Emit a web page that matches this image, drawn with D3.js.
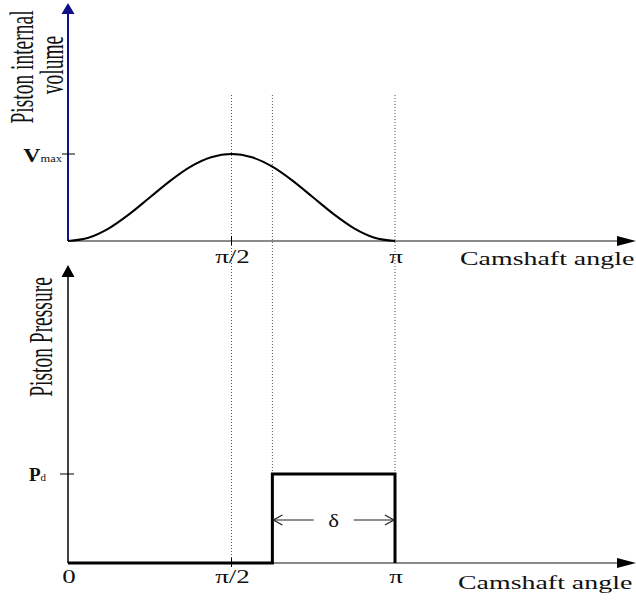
<!DOCTYPE html>
<html>
<head>
<meta charset="utf-8">
<script src="https://cdn.jsdelivr.net/npm/d3@7"></script>
<style>
  html, body { margin: 0; padding: 0; background: #fff; }
  svg { display: block; }
  text { font-family: "Liberation Serif", "Times New Roman", serif; fill: #111; }
</style>
</head>
<body>
<svg id="chart" width="636" height="602"></svg>
<script>
// Camshaft angle samples (radians) and normalised piston internal volume
const volumeAngles = d3.range(0, 17).map(k => k * Math.PI / 16);
const volumeValues = [0, 0.038, 0.146, 0.309, 0.5, 0.691, 0.854, 0.962, 1,
                      0.962, 0.854, 0.691, 0.5, 0.309, 0.146, 0.038, 0];

// Piston pressure: zero until the delivery valve opens, then P_d up to π
const openAngle = 5 * Math.PI / 8;
const pressureAngles = [0, openAngle, openAngle, Math.PI, Math.PI];
const pressureValues = [0, 0, 1, 1, 0];

// Angle tick labels
const tickAnglesTop = [Math.PI / 2, Math.PI];
const tickLabelsTop = ["π/2", "π"];
const tickAnglesBottom = [0, Math.PI / 2, Math.PI];
const tickLabelsBottom = ["0", "π/2", "π"];
// Vertical reference angles drawn as dotted guides
const guideAngles = [Math.PI / 2, openAngle, Math.PI];

const svg = d3.select("#chart");

const x = d3.scaleLinear().domain([0, Math.PI]).range([68, 395]);
const yTop = d3.scaleLinear().domain([0, 1]).range([241, 154]);
const yBot = d3.scaleLinear().domain([0, 1]).range([563, 474]);

const axisGrey = "#8a8a8a";
const navy = "#10108a";
const SX = 1.5; // horizontal stretch of the lettering

function label(px, py, str, opt = {}) {
  const size = opt.size || 18;
  const sx = opt.sx || SX;
  const rot = opt.rotate ? ` rotate(${opt.rotate})` : "";
  const g = svg.append("g").attr("transform", `translate(${px},${py}) scale(${sx},1)${rot}`);
  const t = g.append("text")
    .attr("text-anchor", opt.anchor || "middle")
    .attr("font-size", size);
  if (opt.sub) {
    t.append("tspan").attr("font-weight", opt.weight || "normal").text(str);
    t.append("tspan").attr("font-size", opt.subSize || 10).text(opt.sub);
  } else {
    t.text(str);
  }
  return t;
}

// Dotted guides across both panels
svg.append("g").selectAll("line").data(guideAngles).join("line")
  .attr("x1", d => x(d)).attr("x2", d => x(d))
  .attr("y1", 95).attr("y2", yBot(0))
  .attr("stroke", "#555").attr("stroke-width", 1)
  .attr("stroke-dasharray", "1,2");

// ---------- Top panel: piston internal volume ----------
// x axis
svg.append("line")
  .attr("x1", x(0)).attr("x2", 620).attr("y1", yTop(0)).attr("y2", yTop(0))
  .attr("stroke", axisGrey).attr("stroke-width", 2);
svg.append("path")
  .attr("d", `M636,${yTop(0)} L617,${yTop(0) - 5} L617,${yTop(0) + 5} Z`)
  .attr("fill", "#000");
// y axis
svg.append("line")
  .attr("x1", x(0)).attr("x2", x(0)).attr("y1", yTop(0)).attr("y2", 10)
  .attr("stroke", navy).attr("stroke-width", 2);
svg.append("path")
  .attr("d", `M${x(0)},3 L${x(0) - 6.5},14 L${x(0) + 6.5},14 Z`)
  .attr("fill", navy);

// V_max tick
svg.append("line")
  .attr("x1", 62).attr("x2", 75).attr("y1", yTop(1)).attr("y2", yTop(1))
  .attr("stroke", "#000").attr("stroke-width", 1);
label(62, yTop(1) + 8, "V", { anchor: "end", size: 19, sx: 1.25, weight: "bold", sub: "max", subSize: 10 });

// angle ticks
svg.append("line")
  .attr("x1", x(Math.PI / 2)).attr("x2", x(Math.PI / 2))
  .attr("y1", yTop(0) - 5).attr("y2", yTop(0) + 4)
  .attr("stroke", "#000").attr("stroke-width", 1);
tickAnglesTop.forEach((a, i) => label(x(a) + 1, 263, tickLabelsTop[i], { size: 18 }));

// volume curve
const volLine = d3.line()
  .x((d, i) => x(volumeAngles[i]))
  .y(d => yTop(d))
  .curve(d3.curveMonotoneX);
svg.append("path")
  .attr("d", volLine(volumeValues))
  .attr("fill", "none").attr("stroke", "#000").attr("stroke-width", 2);

label(460, 265, "Camshaft angle", { anchor: "start", size: 18, sx: 1.55 });
label(33, 67, "Piston internal", { rotate: -90, size: 19.5, sx: 1.7 });
label(63, 65, "volume", { rotate: -90, size: 19.5, sx: 1.7 });

// ---------- Bottom panel: piston pressure ----------
svg.append("line")
  .attr("x1", x(0)).attr("x2", 620).attr("y1", yBot(0)).attr("y2", yBot(0))
  .attr("stroke", axisGrey).attr("stroke-width", 2);
svg.append("path")
  .attr("d", `M636,${yBot(0)} L617,${yBot(0) - 5} L617,${yBot(0) + 5} Z`)
  .attr("fill", "#000");
svg.append("line")
  .attr("x1", x(0)).attr("x2", x(0)).attr("y1", yBot(0)).attr("y2", 272)
  .attr("stroke", "#000").attr("stroke-width", 1.5);
svg.append("path")
  .attr("d", `M${x(0)},265 L${x(0) - 6.5},277 L${x(0) + 6.5},277 Z`)
  .attr("fill", "#000");

// P_d tick
svg.append("line")
  .attr("x1", 60).attr("x2", 74).attr("y1", yBot(1)).attr("y2", yBot(1))
  .attr("stroke", "#000").attr("stroke-width", 1);
label(46, yBot(1) + 7, "P", { anchor: "end", size: 19, sx: 1.0, weight: "bold", sub: "d", subSize: 11 });

svg.append("line")
  .attr("x1", x(Math.PI / 2)).attr("x2", x(Math.PI / 2))
  .attr("y1", yBot(0) - 5).attr("y2", yBot(0) + 4)
  .attr("stroke", "#000").attr("stroke-width", 1);
tickAnglesBottom.forEach((a, i) => label(x(a) + 1, 583, tickLabelsBottom[i], { size: 18 }));

// pressure trace
const presLine = d3.line()
  .x((d, i) => x(pressureAngles[i]))
  .y(d => yBot(d));
svg.append("path")
  .attr("d", presLine(pressureValues))
  .attr("fill", "none").attr("stroke", "#000").attr("stroke-width", 3)
  .attr("stroke-linejoin", "miter");

// δ span arrow
const yDelta = 520;
const xa = x(openAngle), xb = x(Math.PI);
const xm = (xa + xb) / 2;
const dg = svg.append("g").attr("stroke", "#222").attr("stroke-width", 1.2).attr("fill", "none");
dg.append("line").attr("x1", xa + 1).attr("x2", xm - 20).attr("y1", yDelta).attr("y2", yDelta);
dg.append("line").attr("x1", xm + 20).attr("x2", xb - 1).attr("y1", yDelta).attr("y2", yDelta);
dg.append("path").attr("d", `M${xa + 10},${yDelta - 5} L${xa + 1},${yDelta} L${xa + 10},${yDelta + 5}`);
dg.append("path").attr("d", `M${xb - 10},${yDelta - 5} L${xb - 1},${yDelta} L${xb - 10},${yDelta + 5}`);
label(xm, 527, "δ", { size: 19, sx: 1.2 });

label(458, 589, "Camshaft angle", { anchor: "start", size: 18, sx: 1.55 });
label(52, 337, "Piston Pressure", { rotate: -90, size: 19.5, sx: 1.7 });
</script>
</body>
</html>
